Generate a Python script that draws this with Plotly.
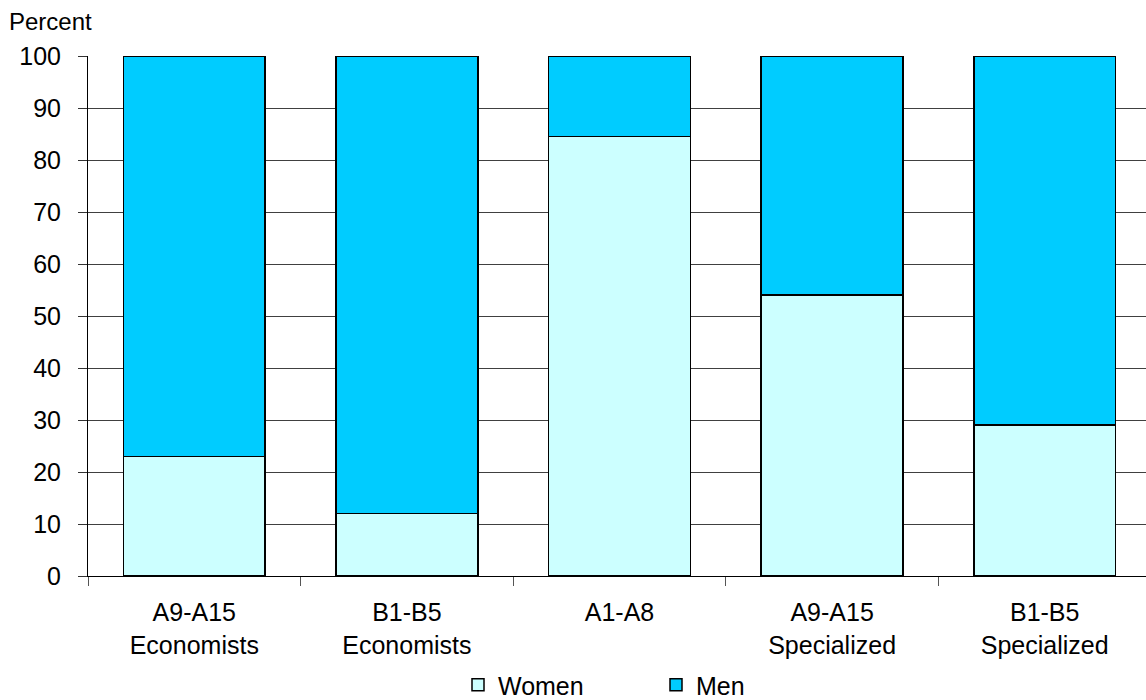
import plotly.graph_objects as go

# Share of women and men by grade group (percent)
categories = [
    "A9-A15<br>Economists",
    "B1-B5<br>Economists",
    "A1-A8",
    "A9-A15<br>Specialized",
    "B1-B5<br>Specialized",
]
women = [23, 12, 84.5, 54, 29]
men = [100 - w for w in women]

FONT = "Liberation Sans, Arial, sans-serif"
W, H = 1146, 700
L, T, B = 88, 56, 124
plot_w = W - L
plot_h = H - T - B
px_per_cat = 212.6

fig = go.Figure()
fig.add_trace(go.Bar(
    x=categories, y=women, name="Women",
    marker=dict(color="#CCFFFF", line=dict(color="#000000", width=1.5)),
))
fig.add_trace(go.Bar(
    x=categories, y=men, name="Men",
    marker=dict(color="#00CCFF", line=dict(color="#000000", width=1.5)),
))

fig.update_layout(
    width=W, height=H,
    margin=dict(l=L, r=0, t=T, b=B, pad=0, autoexpand=False),
    paper_bgcolor="white", plot_bgcolor="white",
    barmode="stack", bargap=0.333,
    font=dict(family=FONT, size=25, color="#000000"),
    showlegend=True,
    legend=dict(
        orientation="h", x=(458 - L) / plot_w, xanchor="left",
        y=-(685 - 576) / plot_h, yanchor="middle",
        bgcolor="rgba(0,0,0,0)", font=dict(size=25),
        entrywidth=153, entrywidthmode="pixels", itemwidth=30,
        traceorder="normal",
    ),
    xaxis=dict(
        type="category", automargin=False,
        range=[-0.5, -0.5 + plot_w / px_per_cat],
        showline=True, linecolor="#000000", linewidth=1,
        ticks="outside", tickson="boundaries", ticklen=9,
        tickcolor="#555555", tickwidth=1,
        showgrid=False, tickfont=dict(size=25),
        ticklabelstandoff=14,
    ),
    yaxis=dict(
        range=[0, 100], tickvals=list(range(0, 101, 10)), automargin=False,
        showline=True, linecolor="#000000", linewidth=1,
        ticks="outside", ticklen=9, tickcolor="#333333",
        showgrid=True, gridcolor="#404040", gridwidth=1,
        zeroline=False, ticklabelstandoff=12,
        tickfont=dict(size=25),
    ),
    annotations=[dict(
        text="Percent", xref="paper", yref="paper",
        x=(7 - L) / plot_w, xanchor="left",
        y=1 + (T - 21) / plot_h, yanchor="middle",
        showarrow=False, font=dict(size=24),
    )],
)

fig.write_html("out.html")
